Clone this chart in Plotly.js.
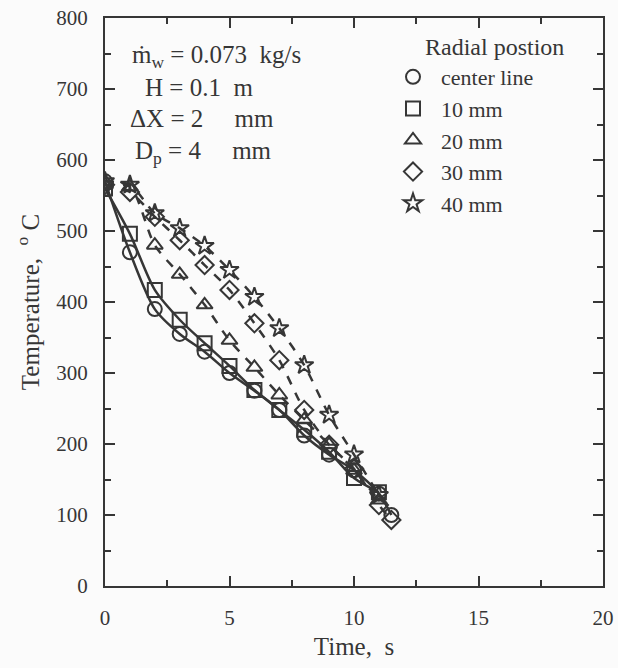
<!DOCTYPE html>
<html>
<head>
<meta charset="utf-8">
<script src="https://cdn.plot.ly/plotly-3.0.1.min.js"></script>
<style>html,body{margin:0;padding:0;background:#fbfbfb;}#chart{width:618px;height:668px;}</style>
</head>
<body>
<div id="chart"></div>
<script>
// Data (time in s, temperature in °C)
const seriesNames = ["center line", "10 mm", "20 mm", "30 mm", "40 mm"];
const symbols = ["circle-open", "square-open", "triangle-up-open", "diamond-open", "star-open"];
const dashes = ["solid", "solid", "dash", "dash", "dash"];

const tCenter = [0, 1, 2, 3, 4, 5, 6, 7, 8, 9, 10, 11, 11.5];
const TCenter = [570, 470, 390, 355, 330, 300, 275, 248, 212, 185, 163, 130, 100];

const t10 = [0, 1, 2, 3, 4, 5, 6, 7, 8, 9, 10, 11];
const T10 = [560, 496, 417, 375, 342, 310, 276, 248, 220, 189, 152, 132];

const t20 = [0, 1, 2, 3, 4, 5, 6, 7, 8, 9, 10, 11];
const T20 = [565, 562, 480, 439, 396, 346, 308, 269, 234, 199, 163, 121];

const t30 = [0, 1, 2, 3, 4, 5, 6, 7, 8, 9, 10, 11, 11.5];
const T30 = [565, 555, 520, 487, 452, 417, 370, 318, 248, 199, 165, 114, 93];

const t40 = [0, 1, 2, 3, 4, 5, 6, 7, 8, 9, 10, 11];
const T40 = [570, 565, 525, 504, 479, 445, 407, 363, 311, 241, 185, 128];

const xTicks = [0, 5, 10, 15, 20];
const yTicks = [0, 100, 200, 300, 400, 500, 600, 700, 800];

const allT = [tCenter, t10, t20, t30, t40];
const allY = [TCenter, T10, T20, T30, T40];

const ink = "#363636";
const serif = "Liberation Serif, Times New Roman, serif";

const traces = [];
for (let i = 0; i < seriesNames.length; i++) {
  traces.push({
    x: allT[i], y: allY[i], type: "scatter", mode: "lines",
    line: {color: ink, width: 2.5, dash: dashes[i], shape: "spline", smoothing: 0.8},
    showlegend: false, hoverinfo: "skip"
  });
}
for (let i = 0; i < seriesNames.length; i++) {
  traces.push({
    x: allT[i], y: allY[i], type: "scatter", mode: "markers",
    name: seriesNames[i], legendgroup: "g" + i,
    marker: {symbol: symbols[i], size: 14, color: ink, line: {color: ink, width: 2}}
  });
}

const W = 498, H = 568, L = 105, T = 18;
function px(x) { return (x - L) / W; }
function py(y) { return (T + H - y) / H; }

const nb = "\u00A0";
const annFont = {family: serif, size: 25, color: ink};
const annotations = [
  {text: "ṁ<sub>w</sub> = 0.073" + nb + nb + "kg/s", x: px(130), y: py(56)},
  {text: "H = 0.1" + nb + nb + "m", x: px(143), y: py(87)},
  {text: "ΔX = 2" + nb.repeat(5) + "mm", x: px(128), y: py(118)},
  {text: "D<sub>p</sub> = 4" + nb.repeat(5) + "mm", x: px(133), y: py(152)},
].map(a => Object.assign({xref: "paper", yref: "paper", xanchor: "left", yanchor: "middle", showarrow: false, font: annFont}, a));
annotations.push({text: "Radial postion", xref: "paper", yref: "paper", x: px(494), y: py(47),
  xanchor: "center", yanchor: "middle", showarrow: false, font: {family: serif, size: 24, color: ink}});

const layout = {
  width: 618, height: 668,
  margin: {l: L, r: 618 - L - W, t: T, b: 668 - T - H},
  paper_bgcolor: "#fbfbfb", plot_bgcolor: "#fbfbfb",
  font: {family: serif, color: ink, size: 20},
  showlegend: true,
  legend: {x: px(385), y: py(56), xanchor: "left", yanchor: "top", bgcolor: "rgba(0,0,0,0)",
    itemwidth: 46,
    font: {family: serif, size: 22, color: ink}, tracegroupgap: 0, traceorder: "grouped"},
  xaxis: {range: [0, 20], tickvals: xTicks, ticks: "inside", ticklen: 10, tickwidth: 2, tickcolor: ink,
    showline: true, linecolor: ink, linewidth: 2, mirror: "ticks", showgrid: false, zeroline: false,
    minor: {dtick: 2.5, ticks: "inside", ticklen: 6, tickwidth: 2, tickcolor: ink},
    tickfont: {family: serif, size: 21, color: ink}, ticklabelstandoff: 12,
    title: {text: "Time," + nb + nb + "s", font: {family: serif, size: 25, color: ink}, standoff: 8}},
  yaxis: {range: [0, 800], tickvals: yTicks, ticks: "inside", ticklen: 10, tickwidth: 2, tickcolor: ink,
    showline: true, linecolor: ink, linewidth: 2, mirror: "ticks", showgrid: false, zeroline: false,
    minor: {dtick: 50, ticks: "inside", ticklen: 6, tickwidth: 2, tickcolor: ink},
    tickfont: {family: serif, size: 21, color: ink}, ticklabelstandoff: 11,
    title: {text: "Temperature," + nb + nb + "<sup>o</sup>" + nb + "C", font: {family: serif, size: 25, color: ink}, standoff: 10}},
  annotations: annotations
};

Plotly.newPlot("chart", traces, layout, {displayModeBar: false, staticPlot: true});
</script>
</body>
</html>
